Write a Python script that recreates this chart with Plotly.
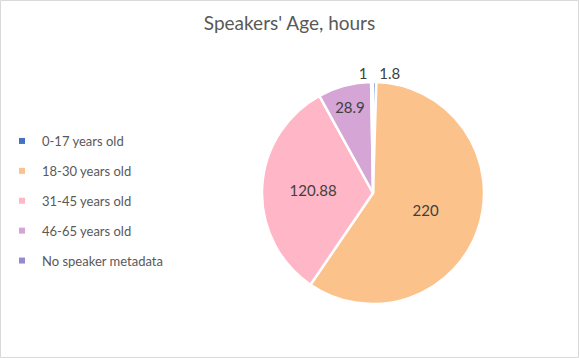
import plotly.graph_objects as go

categories = ["0-17 years old", "18-30 years old", "31-45 years old", "46-65 years old", "No speaker metadata"]
hours = [1.8, 220, 120.88, 28.9, 1]
colors = ["#4472C4", "#FCC28C", "#FFB6C6", "#D4A5D5", "#948BD6"]
text_pos = ["outside", "inside", "inside", "inside", "outside"]

W, H = 579, 358
cx, cy, r = 373, 193, 111

fig = go.Figure()
fig.add_trace(go.Pie(
    labels=categories, values=hours, sort=False, direction="clockwise", rotation=0,
    marker=dict(colors=colors, line=dict(color="white", width=2.5)),
    texttemplate="%{value}", textposition=text_pos, insidetextorientation="horizontal",
    textfont=dict(family="Lato", size=15, color="#404040"),
    showlegend=False, hoverinfo="label+value",
    domain=dict(x=[(cx - r) / W, (cx + r) / W], y=[(H - cy - r) / H, (H - cy + r) / H]),
))

for cat, col in zip(categories, colors):
    fig.add_trace(go.Scatter(
        x=[None], y=[None], mode="markers", name=cat,
        marker=dict(symbol="square", size=6, color=col),
        legendgroup=cat, showlegend=True,
    ))

fig.update_layout(
    width=W, height=H,
    margin=dict(l=0, r=0, t=0, b=0),
    paper_bgcolor="white", plot_bgcolor="white",
    xaxis=dict(visible=False), yaxis=dict(visible=False),
    title=dict(text="Speakers' Age, hours", x=0.5, xanchor="center", y=1 - 23 / H, yanchor="middle",
               font=dict(family="Lato", size=19, color="#595959")),
    legend=dict(x=2 / W, y=1 - 126 / H, xanchor="left", yanchor="top",
                font=dict(family="Lato", size=13, color="#595959"),
                tracegroupgap=10, itemwidth=30, bgcolor="rgba(0,0,0,0)"),
    shapes=[dict(type="rect", xref="paper", yref="paper", x0=0.5 / W, x1=1 - 0.5 / W, y0=0.5 / H, y1=1 - 0.5 / H,
                 line=dict(color="#D9D9D9", width=1))],
)

fig.write_html("out.html", config={"displayModeBar": False},
               post_script="document.body.style.margin='0';document.body.style.overflow='hidden';")
